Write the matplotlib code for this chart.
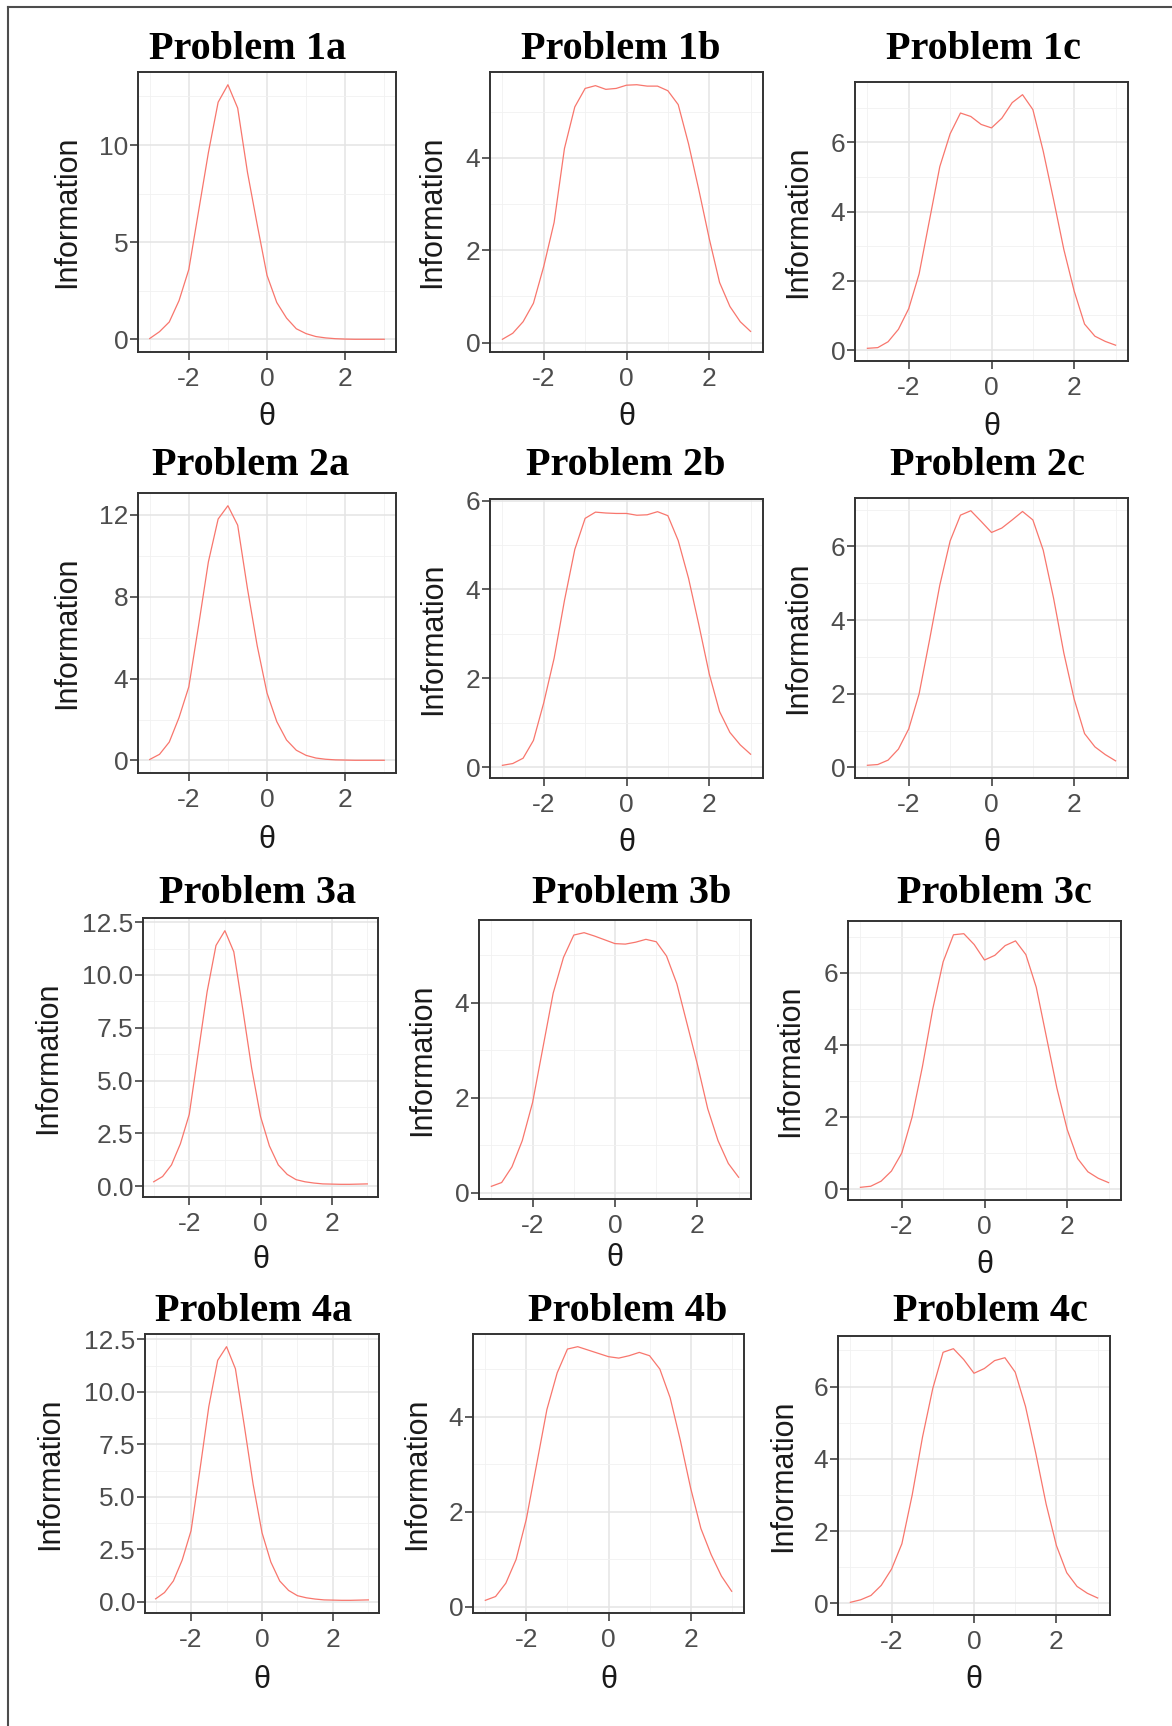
import matplotlib
matplotlib.use("Agg")
import matplotlib.pyplot as plt
from matplotlib.lines import Line2D

#
# Data (test information curves)
#
theta = [-3.0, -2.75, -2.5, -2.25, -2.0, -1.75, -1.5, -1.25, -1.0, -0.75, -0.5, -0.25,
         0.0, 0.25, 0.5, 0.75, 1.0, 1.25, 1.5, 1.75, 2.0, 2.25, 2.5, 2.75, 3.0]

info_1a = [0.05, 0.4, 0.9, 2.0, 3.6, 6.6, 9.6, 12.2, 13.1, 11.9, 8.6, 5.9, 3.3,
           1.9, 1.1, 0.55, 0.3, 0.15, 0.08, 0.04, 0.02, 0.01, 0.01, 0.01, 0.01]
info_1b = [0.07, 0.2, 0.45, 0.85, 1.65, 2.6, 4.2, 5.1, 5.5, 5.56, 5.48, 5.5, 5.57,
           5.58, 5.55, 5.55, 5.45, 5.15, 4.3, 3.3, 2.25, 1.3, 0.78, 0.45, 0.24]
info_1c = [0.05, 0.07, 0.24, 0.6, 1.2, 2.2, 3.75, 5.3, 6.25, 6.85, 6.75, 6.52, 6.42,
           6.7, 7.15, 7.38, 6.95, 5.75, 4.35, 2.9, 1.7, 0.75, 0.4, 0.25, 0.14]

info_2a = [0.05, 0.3, 0.9, 2.1, 3.6, 6.6, 9.7, 11.8, 12.45, 11.5, 8.4, 5.6, 3.3,
           1.9, 1.0, 0.5, 0.25, 0.12, 0.06, 0.03, 0.02, 0.01, 0.01, 0.01, 0.01]
info_2b = [0.04, 0.08, 0.2, 0.6, 1.45, 2.45, 3.75, 4.9, 5.6, 5.74, 5.72, 5.71, 5.71,
           5.67, 5.68, 5.75, 5.66, 5.1, 4.25, 3.2, 2.1, 1.25, 0.78, 0.5, 0.29]
info_2c = [0.06, 0.08, 0.2, 0.5, 1.05, 2.0, 3.45, 4.95, 6.15, 6.85, 6.97, 6.68, 6.38,
           6.5, 6.72, 6.95, 6.72, 5.9, 4.6, 3.1, 1.85, 0.92, 0.56, 0.35, 0.18]

info_3a = [0.2, 0.45, 1.0, 2.0, 3.4, 6.3, 9.2, 11.4, 12.1, 11.1, 8.4, 5.6, 3.3,
           1.9, 1.0, 0.55, 0.3, 0.2, 0.14, 0.1, 0.09, 0.08, 0.08, 0.09, 0.1]
info_3b = [0.14, 0.22, 0.55, 1.1, 1.9, 3.05, 4.2, 4.95, 5.42, 5.47, 5.4, 5.32, 5.24,
           5.23, 5.27, 5.33, 5.28, 4.98, 4.4, 3.55, 2.7, 1.77, 1.1, 0.62, 0.33]
info_3c = [0.05, 0.08, 0.22, 0.5, 1.0, 2.0, 3.4, 5.0, 6.3, 7.05, 7.08, 6.78, 6.35,
           6.48, 6.75, 6.88, 6.5, 5.6, 4.2, 2.8, 1.65, 0.85, 0.48, 0.3, 0.18]

info_4a = [0.15, 0.45, 1.0, 2.0, 3.4, 6.3, 9.3, 11.5, 12.15, 11.1, 8.4, 5.6, 3.3,
           1.9, 1.0, 0.55, 0.3, 0.2, 0.14, 0.1, 0.09, 0.08, 0.08, 0.09, 0.1]
info_4b = [0.14, 0.22, 0.5, 1.0, 1.85, 3.0, 4.15, 4.92, 5.42, 5.47, 5.4, 5.33, 5.26,
           5.23, 5.28, 5.35, 5.28, 5.0, 4.4, 3.5, 2.5, 1.65, 1.1, 0.65, 0.33]
info_4c = [0.03, 0.1, 0.22, 0.5, 0.95, 1.65, 3.0, 4.6, 5.95, 6.95, 7.05, 6.75, 6.37,
           6.5, 6.72, 6.8, 6.4, 5.45, 4.15, 2.75, 1.6, 0.85, 0.47, 0.28, 0.15]

titles = ["Problem 1a", "Problem 1b", "Problem 1c",
          "Problem 2a", "Problem 2b", "Problem 2c",
          "Problem 3a", "Problem 3b", "Problem 3c",
          "Problem 4a", "Problem 4b", "Problem 4c"]

curves = [info_1a, info_1b, info_1c, info_2a, info_2b, info_2c,
          info_3a, info_3b, info_3c, info_4a, info_4b, info_4c]

# y ticks per panel (major, minor, label format)
yticks = [([0, 5, 10], [2.5, 7.5, 12.5], "{:g}"),
          ([0, 2, 4], [1, 3, 5], "{:g}"),
          ([0, 2, 4, 6], [1, 3, 5, 7], "{:g}"),
          ([0, 4, 8, 12], [2, 6, 10], "{:g}"),
          ([0, 2, 4, 6], [1, 3, 5], "{:g}"),
          ([0, 2, 4, 6], [1, 3, 5, 7], "{:g}"),
          ([0, 2.5, 5, 7.5, 10, 12.5], [1.25, 3.75, 6.25, 8.75, 11.25], "{:.1f}"),
          ([0, 2, 4], [1, 3, 5], "{:g}"),
          ([0, 2, 4, 6], [1, 3, 5, 7], "{:g}"),
          ([0, 2.5, 5, 7.5, 10, 12.5], [1.25, 3.75, 6.25, 8.75, 11.25], "{:.1f}"),
          ([0, 2, 4], [1, 3, 5], "{:g}"),
          ([0, 2, 4, 6], [1, 3, 5, 7], "{:g}")]

#
# Layout in pixels: (left, top, right, bottom) of each panel,
# title centre x / baseline y, y-label centre x, x-label centre y
#
W, H = 1172, 1726
boxes = [(138, 72, 396, 352), (490, 72, 763, 352), (855, 82, 1128, 361),
         (138, 493, 396, 773), (490, 499, 763, 778), (855, 498, 1128, 778),
         (143, 918, 378, 1197), (479, 920, 751, 1199), (848, 921, 1121, 1200),
         (145, 1334, 379, 1613), (473, 1334, 744, 1613), (838, 1336, 1110, 1615)]
title_pos = [(248, 59), (621, 59), (984, 59),
             (251, 475), (626, 475), (987, 475),
             (258, 903), (632, 903), (994, 903),
             (254, 1321), (628, 1321), (990, 1321)]
ylab_x = [67, 432, 798, 67, 433, 798, 48, 422, 790, 50, 417, 783]
xlab_y = [417, 417, 427, 840, 843, 843, 1260, 1258, 1265, 1680, 1680, 1680]

LINE_RED = "#F8766D"
SANS = ["Liberation Sans", "DejaVu Sans"]
SERIF = ["Liberation Serif", "DejaVu Serif"]


def fx(px):
    return px / W


def fy(py):
    return 1 - py / H


fig = plt.figure(figsize=(W / 100, H / 100), dpi=100)
fig.patch.set_facecolor("white")

for i in range(12):
    l, t, r, b = boxes[i]
    ax = fig.add_axes([fx(l), fy(b), (r - l) / W, (b - t) / H])
    ax.plot(theta, curves[i], color=LINE_RED, linewidth=0.9, zorder=3)
    ax.set_xlim(-3.3, 3.3)
    ax.margins(y=0.05)

    # ticks and grid, ggplot theme_bw style
    major, minor, fmt = yticks[i]
    ax.set_xticks([-2, 0, 2])
    ax.set_xticklabels(["-2", "0", "2"])
    ax.set_xticks([-3, -1, 1, 3], minor=True)
    ax.set_yticks(major)
    ax.set_yticklabels([fmt.format(v) for v in major])
    ax.set_yticks(minor, minor=True)
    ax.grid(which="major", color="#E4E4E4", linewidth=1.1, zorder=0)
    ax.grid(which="minor", color="#F1F1F1", linewidth=0.6, zorder=0)
    ax.set_axisbelow(True)
    ax.tick_params(which="minor", length=0)
    ax.tick_params(axis="x", which="major", length=5.5, width=1.1, color="#333333",
                   pad=5, labelsize=19, labelcolor="#4D4D4D")
    ax.tick_params(axis="y", which="major", length=5.5, width=1.1, color="#333333",
                   pad=1.5, labelsize=19, labelcolor="#4D4D4D")
    for lab in ax.get_xticklabels() + ax.get_yticklabels():
        lab.set_family(SANS)
    for sp in ax.spines.values():
        sp.set_color("#333333")
        sp.set_linewidth(1.4)

    # titles and axis labels
    tx, ty = title_pos[i]
    fig.text(fx(tx), fy(ty), titles[i], ha="center", va="baseline",
             fontsize=29, fontweight="bold", family=SERIF, color="black")
    fig.text(fx(ylab_x[i]), fy((t + b) / 2), "Information", rotation=90,
             ha="center", va="center", fontsize=22, family=SANS, color="#1A1A1A")
    fig.text(fx((l + r) / 2), fy(xlab_y[i]), "θ", ha="center", va="center",
             fontsize=22, family=SANS, color="#1A1A1A")

# outer frame (only top and left edges are visible in the picture)
fig.add_artist(Line2D([fx(8), 1], [fy(7), fy(7)], color="#4D4D4D", linewidth=1.5))
fig.add_artist(Line2D([fx(8), fx(8)], [0, fy(7)], color="#4D4D4D", linewidth=1.5))

fig.savefig("out.png", dpi=100, facecolor="white")
